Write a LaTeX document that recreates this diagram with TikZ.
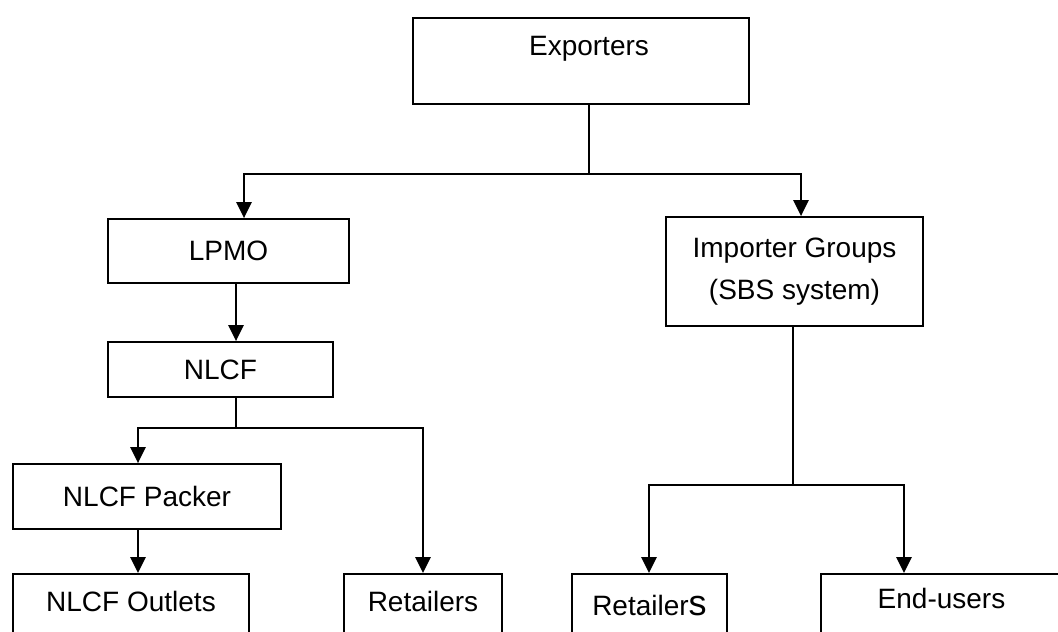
\documentclass[tikz,border=0pt]{standalone}
\usepackage{fontspec}
\setmainfont{Liberation Sans}
\usetikzlibrary{arrows.meta}

\tikzset{every picture/.style={line width=1.4pt}}
\tikzset{
	box/.style={draw, inner sep=0pt, align=center, font=\fontsize{21}{31.5}\selectfont},
	topbox/.style={box, anchor=north, text height=28pt},
	arr/.style={-{Triangle[length=12pt,width=11.5pt]}}
}

\begin{document}
\begin{tikzpicture}[x=0.75pt,y=0.75pt,yscale=-1,xscale=1]
	\useasboundingbox (0,0) rectangle (1058,632);
	\clip (0,0) rectangle (1058,632);

	%Shape: Rectangle [exporters]
	\node [topbox, text depth=36.4pt, minimum width=252pt] (exp) at (581,17) {\hspace*{12pt}Exporters};
	%Shape: Rectangle [lpmo]
	\node [box, minimum width=180.75pt, minimum height=48pt] (lpmo) at (228.5,251) {LPMO};
	%Shape: Rectangle [importers]
	\node [box, minimum width=192.75pt, minimum height=81.75pt] (imp) at (794.5,271.5) {Importer Groups\\(SBS system)};
	%Shape: Rectangle [nlcf]
	\node [box, minimum width=168.75pt, minimum height=41.25pt] (nlcf) at (220.5,369.5) {NLCF};
	%Shape: Rectangle [packer]
	\node [box, minimum width=201pt, minimum height=48.75pt] (pack) at (147,496.5) {NLCF Packer};
	%Shape: Rectangle [bottom row]
	\node [topbox, text depth=30pt, minimum width=177pt] (outl) at (131,573) {NLCF Outlets};
	\node [topbox, text depth=30pt, minimum width=118.5pt] (retA) at (423,573) {Retailers};
	\node [topbox, text depth=30pt, minimum width=116.25pt, text height=31pt] (retB) at (649.5,573) {Retailer{\fontsize{27}{27}\selectfont s}};
	\node [topbox, text depth=30pt, minimum width=180.75pt, text height=26pt] (endu) at (941.5,573) {End-users};

	% columns and rows of the connectors
	\coordinate (cE) at (589,174);
	\coordinate (cL) at (244,174);
	\coordinate (cI) at (801,174);
	\coordinate (cN) at (236,428);
	\coordinate (cP) at (138,428);
	\coordinate (cR) at (423,428);
	\coordinate (cS) at (793,485);
	\coordinate (cA) at (649,485);
	\coordinate (cB) at (904,485);

	%Straight Lines
	\draw (exp.south -| cE) -- (cE);
	\draw [arr] (cE) -- (cL) -- (cL |- lpmo.north);
	\draw [arr] (cE) -- (cI) -- (cI |- imp.north);
	%Straight Lines
	\draw [arr] (lpmo.south -| cN) -- (nlcf.north -| cN);
	\draw (nlcf.south -| cN) -- (cN);
	\draw [arr] (cN) -- (cP) -- (cP |- pack.north);
	\draw [arr] (cN) -- (cR) -- (cR |- retA.north);
	\draw [arr] (pack.south -| cP) -- (outl.north -| cP);
	%Straight Lines
	\draw (imp.south -| cS) -- (cS);
	\draw [arr] (cS) -- (cA) -- (cA |- retB.north);
	\draw [arr] (cS) -- (cB) -- (cB |- endu.north);

\end{tikzpicture}
\end{document}
